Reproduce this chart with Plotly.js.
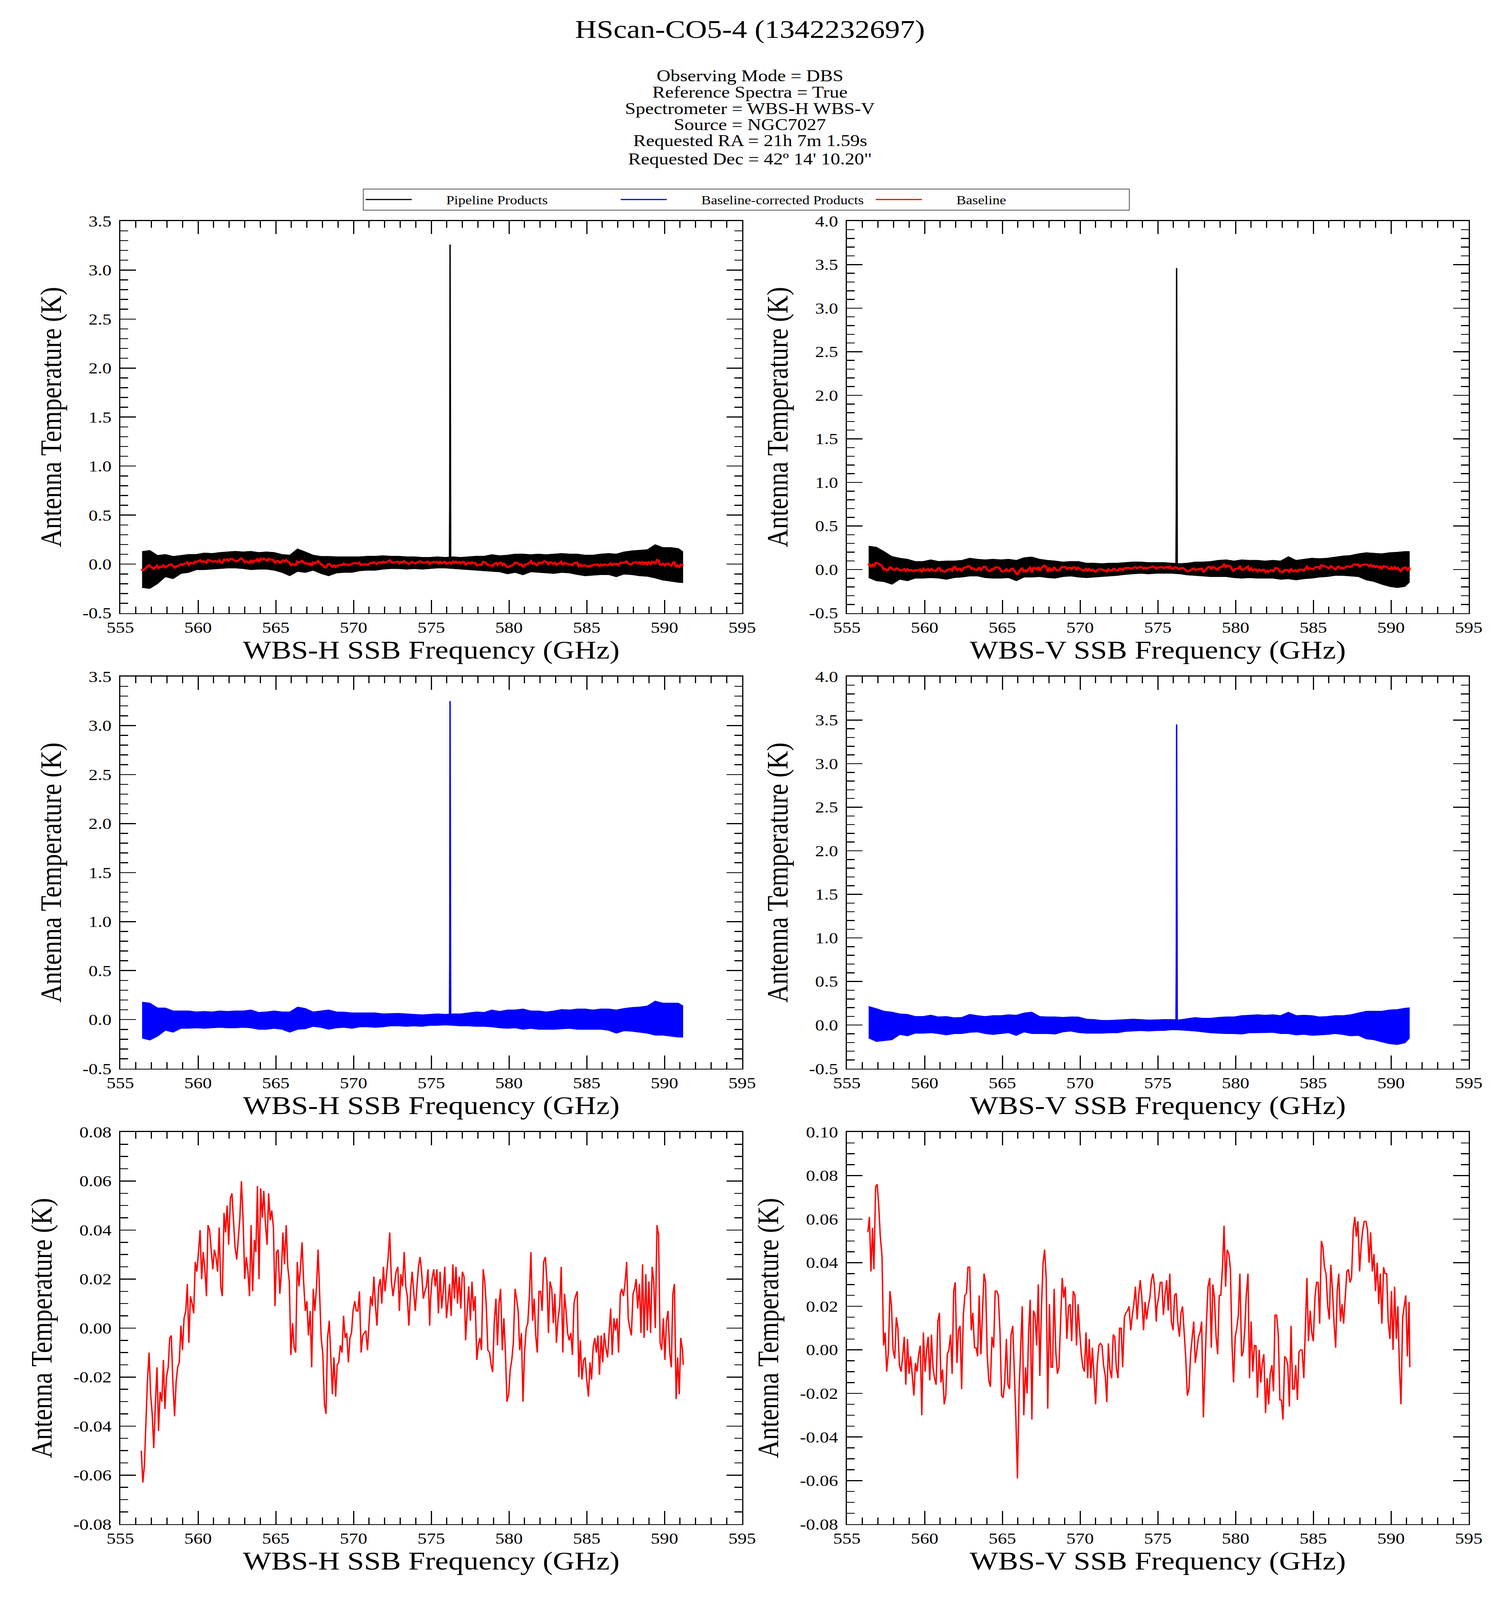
<!DOCTYPE html>
<html>
<head>
<meta charset="utf-8">
<script src="https://cdn.plot.ly/plotly-3.0.1.min.js"></script>
<style>
  html, body { margin: 0; padding: 0; background: #ffffff; overflow: hidden; }
  #wrap { width: 3840px; overflow: hidden; }
  #chart { width: 3840px; height: 4872px; }
</style>
</head>
<body>
<div id="wrap"><div id="chart"></div></div>
<script>
// ---------------- DATA ----------------
const freqGHz = [556.35, 556.45, 556.55, 556.65,
556.74, 556.85, 556.95, 557.05, 557.15, 557.26, 557.36, 557.46, 557.56, 557.67, 557.77, 557.87, 557.97, 558.08, 558.18, 558.28, 558.38, 558.49, 558.59, 558.69, 558.79, 558.90, 559.00, 559.10, 559.21, 559.31, 559.41, 559.51, 559.62, 559.72, 559.82, 559.92, 560.03, 560.13, 560.23, 560.33, 560.44, 560.54, 560.64,
560.74, 560.85, 560.95, 561.05, 561.15, 561.26, 561.36, 561.46, 561.56, 561.67, 561.77, 561.87, 561.97, 562.08, 562.18, 562.28, 562.38, 562.49, 562.59, 562.69, 562.79, 562.90, 563.00, 563.10, 563.21, 563.31, 563.41, 563.51, 563.62, 563.72, 563.82, 563.92, 564.03, 564.13, 564.23, 564.33, 564.44, 564.54, 564.64,
564.74, 564.85, 564.95, 565.05, 565.15, 565.26, 565.36, 565.46, 565.56, 565.67, 565.77, 565.87, 565.97, 566.08, 566.18, 566.28, 566.38, 566.49, 566.59, 566.69, 566.79, 566.90, 567.00, 567.10, 567.21, 567.31, 567.41, 567.51, 567.62, 567.72, 567.82, 567.92, 568.03, 568.13, 568.23, 568.33, 568.44, 568.54, 568.64,
568.74, 568.85, 568.95, 569.05, 569.15, 569.26, 569.36, 569.46, 569.56, 569.67, 569.77, 569.87, 569.97, 570.08, 570.18, 570.28, 570.38, 570.49, 570.59, 570.69, 570.79, 570.90, 571.00, 571.10, 571.21, 571.31, 571.41, 571.51, 571.62, 571.72, 571.82, 571.92, 572.03, 572.13, 572.23, 572.33, 572.44, 572.54, 572.64,
572.74, 572.85, 572.95, 573.05, 573.15, 573.26, 573.36, 573.46, 573.56, 573.67, 573.77, 573.87, 573.97, 574.08, 574.18, 574.28, 574.38, 574.49, 574.59, 574.69, 574.79, 574.90,
574.95, 575.05, 575.16, 575.26, 575.36, 575.46, 575.57, 575.67, 575.77, 575.87, 575.98, 576.08, 576.18, 576.28, 576.39, 576.49, 576.59, 576.69, 576.80, 576.90, 577.00, 577.11, 577.21, 577.31, 577.41, 577.52, 577.62, 577.72, 577.82, 577.93, 578.03, 578.13, 578.23, 578.34, 578.44, 578.54, 578.64, 578.75, 578.85,
578.95, 579.05, 579.16, 579.26, 579.36, 579.46, 579.57, 579.67, 579.77, 579.87, 579.98, 580.08, 580.18, 580.28, 580.39, 580.49, 580.59, 580.69, 580.80, 580.90, 581.00, 581.11, 581.21, 581.31, 581.41, 581.52, 581.62, 581.72, 581.82, 581.93, 582.03, 582.13, 582.23, 582.34, 582.44, 582.54, 582.64, 582.75, 582.85,
582.95, 583.05, 583.16, 583.26, 583.36, 583.46, 583.57, 583.67, 583.77, 583.87, 583.98, 584.08, 584.18, 584.28, 584.39, 584.49, 584.59, 584.69, 584.80, 584.90, 585.00, 585.11, 585.21, 585.31, 585.41, 585.52, 585.62, 585.72, 585.82, 585.93, 586.03, 586.13, 586.23, 586.34, 586.44, 586.54, 586.64, 586.75, 586.85,
586.95, 587.05, 587.16, 587.26, 587.36, 587.46, 587.57, 587.67, 587.77, 587.87, 587.98, 588.08, 588.18, 588.28, 588.39, 588.49, 588.59, 588.69, 588.80, 588.90, 589.00, 589.11, 589.21, 589.31, 589.41, 589.52, 589.62, 589.72, 589.82, 589.93, 590.03, 590.13, 590.23, 590.34, 590.44, 590.54, 590.64, 590.75, 590.85,
590.95, 591.05, 591.16, 591.21];

const baselineH = [-0.050, -0.063, -0.056, -0.037,
-0.022, -0.010, -0.027, -0.035, -0.049, -0.030, -0.016, -0.042, -0.026, -0.030, -0.013, -0.033, -0.020, -0.016, -0.004, -0.003, -0.022, -0.036, -0.022, -0.016, -0.014, 0.001, -0.009, 0.004, 0.007, 0.018, -0.006, 0.013, 0.010, 0.006, 0.027, 0.023, 0.031, 0.040, 0.020, 0.031, 0.024, 0.013, 0.042,
0.040, 0.031, 0.024, 0.032, 0.029, 0.023, 0.041, 0.017, 0.013, 0.047, 0.039, 0.050, 0.034, 0.053, 0.055, 0.044, 0.033, 0.028, 0.037, 0.045, 0.060, 0.044, 0.020, 0.029, 0.023, 0.013, 0.042, 0.015, 0.036, 0.031, 0.058, 0.020, 0.057, 0.045, 0.056, 0.043, 0.034, 0.055, 0.044,
0.048, 0.041, 0.009, 0.031, 0.032, 0.014, 0.023, 0.039, 0.026, 0.042, 0.025, 0.019, -0.011, 0.002, -0.008, -0.010, 0.027, 0.017, 0.025, 0.035, 0.019, 0.007, 0.011, -0.003, 0.007, -0.016, 0.016, 0.007, 0.017, 0.032, 0.014, -0.004, -0.011, -0.031, -0.035, -0.004, 0.003, -0.012, -0.027,
-0.012, -0.028, -0.015, -0.014, -0.007, -0.010, 0.005, -0.004, -0.002, -0.014, -0.004, -0.002, 0.007, 0.011, 0.007, 0.007, 0.015, -0.010, -0.003, -0.002, -0.001, -0.009, 0.002, 0.013, 0.009, 0.021, 0.009, 0.001, 0.017, 0.020, 0.010, 0.025, 0.015, 0.022, 0.029, 0.039, 0.019, 0.013, 0.018,
0.023, 0.025, 0.007, 0.022, 0.017, 0.031, 0.017, 0.013, 0.001, 0.015, 0.023, 0.015, 0.007, 0.017, 0.025, 0.029, 0.023, 0.012, 0.015, 0.017, 0.024, 0.001,
0.011, 0.020, 0.024, 0.017, 0.024, 0.006, 0.023, 0.008, 0.015, 0.025, 0.004, 0.011, 0.018, 0.005, 0.026, 0.012, 0.025, 0.010, 0.021, 0.008, 0.023, 0.021, -0.005, 0.007, 0.017, 0.003, 0.019, 0.007, 0.013, -0.013, -0.007, -0.004, -0.009, 0.024, 0.019, 0.009, -0.009, -0.010, -0.015,
-0.018, 0.002, 0.012, -0.007, 0.010, 0.016, -0.009, 0.004, -0.010, -0.030, -0.027, -0.017, -0.013, -0.006, 0.016, 0.012, 0.007, -0.009, -0.002, -0.030, -0.010, 0.000, 0.002, 0.013, 0.031, 0.003, 0.012, -0.003, -0.010, 0.015, 0.015, 0.007, 0.027, 0.029, 0.019, -0.002, 0.019, 0.016, 0.002,
0.014, -0.006, 0.004, 0.009, 0.025, -0.010, 0.014, 0.007, -0.002, -0.005, -0.002, -0.011, 0.010, 0.013, 0.015, -0.020, -0.005, -0.021, -0.013, -0.012, -0.021, -0.028, -0.014, -0.021, -0.008, -0.004, -0.010, -0.003, -0.019, -0.003, -0.014, -0.002, -0.008, -0.012, -0.002, 0.008, -0.011, 0.004, -0.001,
0.004, -0.010, 0.014, 0.016, 0.013, 0.018, 0.027, 0.004, 0.000, -0.003, 0.014, 0.016, 0.020, 0.008, 0.018, -0.002, 0.026, -0.004, 0.022, -0.001, 0.019, -0.002, 0.025, 0.019, 0.000, 0.042, 0.038, -0.006, -0.009, 0.004, -0.013, 0.003, 0.007, -0.010, -0.016, 0.014, 0.018, -0.029, -0.012,
-0.027, -0.004, -0.009, -0.015];

const baselineV = [0.054, 0.061, 0.036, 0.056,
0.037, 0.075, 0.076, 0.066, 0.052, 0.043, 0.002, 0.008, -0.010, -0.001, 0.027, 0.020, 0.000, -0.004, 0.015, 0.010, -0.007, -0.010, -0.003, 0.006, -0.016, 0.005, -0.011, -0.003, -0.012, -0.021, -0.006, -0.010, -0.002, 0.002, -0.030, 0.008, -0.010, 0.000, 0.006, -0.014, 0.007, -0.008, -0.013,
-0.016, 0.013, 0.017, -0.015, -0.009, -0.025, -0.021, -0.002, 0.000, 0.007, -0.011, 0.027, 0.031, -0.006, 0.009, 0.011, -0.018, 0.016, 0.025, 0.026, 0.038, 0.038, 0.009, 0.017, 0.001, 0.001, -0.003, 0.025, -0.002, 0.017, 0.035, 0.031, -0.003, -0.014, -0.017, 0.006, 0.001, 0.027, 0.027,
0.025, 0.008, -0.021, -0.022, -0.015, 0.005, -0.016, -0.018, 0.007, 0.011, -0.010, -0.031, -0.059, -0.018, 0.001, 0.020, -0.030, -0.008, -0.020, 0.008, 0.023, -0.032, 0.018, 0.016, 0.002, 0.030, -0.012, 0.018, 0.040, 0.046, 0.033, -0.027, 0.021, -0.008, -0.008, 0.028, -0.001, -0.011, -0.008,
0.013, 0.033, 0.024, 0.029, 0.005, 0.020, 0.021, 0.004, 0.027, 0.025, 0.002, 0.021, 0.009, -0.002, -0.008, -0.010, 0.008, -0.013, 0.005, -0.013, 0.001, -0.013, -0.025, -0.007, 0.002, 0.003, 0.002, -0.007, -0.012, -0.024, 0.003, -0.009, -0.013, 0.007, 0.006, -0.008, -0.013, 0.010, 0.010,
-0.008, 0.015, 0.017, 0.018, 0.020, 0.009, 0.016, 0.021, 0.029, 0.014, 0.025, 0.032, 0.024, 0.009, 0.022, 0.014, 0.020, 0.024, 0.032, 0.035, 0.029, 0.013,
0.020, 0.024, 0.031, 0.031, 0.016, 0.025, 0.032, 0.018, 0.035, 0.013, 0.009, 0.025, 0.026, 0.013, 0.006, 0.017, 0.020, 0.009, -0.004, -0.021, -0.018, -0.002, 0.005, 0.013, -0.006, 0.001, 0.006, 0.008, 0.013, -0.031, -0.008, 0.013, 0.029, 0.033, 0.001, 0.030, 0.024, 0.006, -0.002,
0.025, 0.025, 0.038, 0.057, 0.029, 0.046, 0.044, 0.037, 0.003, -0.015, 0.006, 0.010, 0.016, 0.035, -0.003, -0.001, 0.009, 0.025, 0.035, -0.013, 0.013, -0.010, 0.002, 0.002, -0.022, 0.000, -0.015, -0.006, -0.002, -0.029, -0.013, -0.025, -0.011, -0.007, -0.019, 0.016, 0.016, 0.007, -0.023,
-0.023, -0.032, -0.003, -0.004, -0.007, -0.026, 0.011, -0.018, -0.018, -0.007, -0.023, -0.001, 0.000, 0.000, -0.013, 0.008, 0.033, 0.004, 0.018, 0.008, 0.004, 0.024, 0.031, 0.031, 0.012, 0.050, 0.047, 0.038, 0.035, 0.020, 0.014, 0.039, 0.028, 0.012, 0.001, 0.027, 0.035, 0.013, 0.021,
0.012, 0.024, 0.036, 0.037, 0.031, 0.033, 0.055, 0.061, 0.052, 0.059, 0.036, 0.048, 0.055, 0.059, 0.059, 0.055, 0.040, 0.054, 0.036, 0.044, 0.027, 0.040, 0.021, 0.035, 0.012, 0.038, 0.035, 0.035, 0.013, 0.005, 0.027, 0.000, 0.029, 0.005, 0.020, -0.008, -0.025, 0.015, 0.020,
0.025, -0.003, 0.022, -0.008];

const bandFreqGHz = [556.4, 556.9, 557.4, 557.9, 558.4, 558.9, 559.4, 559.9, 560.4, 560.9, 561.4, 561.9, 562.4, 562.9, 563.4, 563.9, 564.4, 564.9, 565.4, 565.9, 566.4, 566.9, 567.4, 567.9, 568.4, 568.9, 569.4, 569.9, 570.4, 570.9, 571.4, 571.9, 572.4, 572.9, 573.4, 573.9, 574.4, 574.9, 575.4, 575.9, 576.4, 576.9, 577.4, 577.9, 578.4, 578.9, 579.4, 579.9, 580.4, 580.9, 581.4, 581.9, 582.4, 582.9, 583.4, 583.9, 584.4, 584.9, 585.4, 585.9, 586.4, 586.9, 587.4, 587.9, 588.4, 588.9, 589.4, 589.9, 590.4, 590.9, 591.2];

const pipelineHHi = [0.13, 0.14, 0.09, 0.10, 0.08, 0.09, 0.10, 0.10, 0.115, 0.11, 0.12, 0.126, 0.132, 0.126, 0.132, 0.12, 0.126, 0.12, 0.10, 0.093, 0.157, 0.126, 0.093, 0.08, 0.08, 0.076, 0.076, 0.076, 0.076, 0.082, 0.082, 0.087, 0.082, 0.082, 0.076, 0.076, 0.07, 0.07, 0.076, 0.07, 0.076, 0.07, 0.076, 0.082, 0.082, 0.098, 0.087, 0.093, 0.104, 0.104, 0.098, 0.104, 0.098, 0.104, 0.11, 0.104, 0.104, 0.093, 0.093, 0.104, 0.11, 0.104, 0.126, 0.137, 0.143, 0.149, 0.20, 0.17, 0.17, 0.16, 0.126];
const pipelineHLo = [-0.24, -0.25, -0.20, -0.13, -0.15, -0.097, -0.086, -0.058, -0.058, -0.053, -0.047, -0.041, -0.041, -0.047, -0.058, -0.053, -0.053, -0.064, -0.086, -0.12, -0.075, -0.086, -0.064, -0.097, -0.12, -0.092, -0.086, -0.086, -0.069, -0.064, -0.064, -0.053, -0.047, -0.047, -0.053, -0.047, -0.053, -0.047, -0.041, -0.041, -0.047, -0.053, -0.058, -0.064, -0.069, -0.075, -0.080, -0.10, -0.086, -0.11, -0.080, -0.086, -0.092, -0.097, -0.086, -0.092, -0.108, -0.12, -0.114, -0.108, -0.108, -0.13, -0.103, -0.108, -0.12, -0.125, -0.142, -0.164, -0.175, -0.187, -0.19];
const pipelineVHi = [0.27, 0.258, 0.208, 0.151, 0.132, 0.12, 0.094, 0.094, 0.113, 0.094, 0.10, 0.10, 0.107, 0.132, 0.12, 0.113, 0.12, 0.113, 0.12, 0.107, 0.138, 0.145, 0.12, 0.107, 0.10, 0.088, 0.094, 0.094, 0.075, 0.075, 0.069, 0.075, 0.075, 0.082, 0.088, 0.088, 0.082, 0.082, 0.082, 0.075, 0.069, 0.075, 0.088, 0.088, 0.094, 0.107, 0.113, 0.10, 0.113, 0.107, 0.107, 0.10, 0.107, 0.10, 0.15, 0.107, 0.12, 0.132, 0.126, 0.132, 0.145, 0.157, 0.164, 0.182, 0.195, 0.189, 0.182, 0.195, 0.20, 0.208, 0.208];
const pipelineVLo = [-0.094, -0.13, -0.14, -0.17, -0.113, -0.13, -0.10, -0.10, -0.094, -0.10, -0.113, -0.094, -0.088, -0.075, -0.075, -0.094, -0.10, -0.10, -0.094, -0.13, -0.088, -0.088, -0.082, -0.094, -0.10, -0.082, -0.075, -0.088, -0.094, -0.088, -0.082, -0.075, -0.069, -0.057, -0.05, -0.044, -0.05, -0.044, -0.044, -0.044, -0.05, -0.063, -0.069, -0.075, -0.082, -0.082, -0.082, -0.094, -0.10, -0.094, -0.10, -0.10, -0.10, -0.113, -0.107, -0.12, -0.107, -0.10, -0.088, -0.082, -0.069, -0.069, -0.075, -0.082, -0.12, -0.138, -0.17, -0.195, -0.208, -0.195, -0.145];
const correctedHHi = [0.18, 0.17, 0.12, 0.12, 0.09, 0.09, 0.09, 0.08, 0.085, 0.08, 0.09, 0.085, 0.09, 0.09, 0.10, 0.075, 0.08, 0.09, 0.08, 0.08, 0.13, 0.115, 0.08, 0.09, 0.10, 0.08, 0.078, 0.07, 0.07, 0.07, 0.07, 0.06, 0.062, 0.065, 0.06, 0.055, 0.05, 0.055, 0.06, 0.055, 0.06, 0.06, 0.07, 0.08, 0.075, 0.10, 0.085, 0.10, 0.10, 0.11, 0.09, 0.09, 0.08, 0.09, 0.105, 0.10, 0.11, 0.11, 0.10, 0.11, 0.11, 0.10, 0.115, 0.125, 0.13, 0.14, 0.19, 0.17, 0.17, 0.17, 0.14];
const correctedHLo = [-0.19, -0.21, -0.17, -0.11, -0.13, -0.09, -0.09, -0.085, -0.09, -0.085, -0.08, -0.085, -0.085, -0.08, -0.085, -0.10, -0.10, -0.09, -0.10, -0.13, -0.10, -0.095, -0.07, -0.08, -0.10, -0.085, -0.08, -0.09, -0.075, -0.075, -0.08, -0.075, -0.065, -0.065, -0.07, -0.065, -0.07, -0.06, -0.06, -0.055, -0.06, -0.065, -0.065, -0.07, -0.07, -0.075, -0.085, -0.09, -0.085, -0.10, -0.09, -0.10, -0.10, -0.10, -0.095, -0.09, -0.10, -0.10, -0.10, -0.10, -0.11, -0.14, -0.115, -0.12, -0.13, -0.14, -0.16, -0.16, -0.17, -0.18, -0.18];
const correctedVHi = [0.215, 0.19, 0.16, 0.15, 0.13, 0.125, 0.10, 0.10, 0.115, 0.095, 0.10, 0.085, 0.09, 0.125, 0.11, 0.10, 0.11, 0.11, 0.12, 0.115, 0.14, 0.15, 0.10, 0.095, 0.095, 0.09, 0.095, 0.094, 0.07, 0.065, 0.055, 0.055, 0.06, 0.065, 0.07, 0.065, 0.06, 0.062, 0.065, 0.065, 0.062, 0.075, 0.088, 0.08, 0.08, 0.09, 0.095, 0.095, 0.11, 0.115, 0.12, 0.115, 0.12, 0.11, 0.15, 0.11, 0.115, 0.11, 0.095, 0.10, 0.11, 0.11, 0.12, 0.14, 0.16, 0.16, 0.16, 0.175, 0.18, 0.195, 0.20];
const correctedVLo = [-0.15, -0.19, -0.18, -0.17, -0.11, -0.125, -0.095, -0.095, -0.09, -0.10, -0.115, -0.10, -0.10, -0.085, -0.08, -0.10, -0.11, -0.10, -0.09, -0.12, -0.08, -0.10, -0.10, -0.10, -0.105, -0.08, -0.07, -0.088, -0.095, -0.095, -0.095, -0.09, -0.09, -0.075, -0.07, -0.065, -0.07, -0.065, -0.064, -0.055, -0.058, -0.065, -0.07, -0.08, -0.09, -0.095, -0.10, -0.10, -0.105, -0.09, -0.09, -0.088, -0.085, -0.10, -0.10, -0.115, -0.107, -0.12, -0.115, -0.11, -0.10, -0.11, -0.125, -0.12, -0.16, -0.17, -0.195, -0.215, -0.225, -0.205, -0.15];

const lineFreqGHz = [576.14, 576.17, 576.19, 576.20, 576.21, 576.22, 576.23, 576.25, 576.28];
const linePipelineH  = [0.02, 0.04, 0.60, 2.90, 3.26, 2.40, 0.50, 0.06, 0.02];
const lineCorrectedH = [0.00, 0.03, 0.60, 2.90, 3.25, 2.40, 0.50, 0.05, 0.00];
const linePipelineV  = [0.03, 0.05, 0.70, 3.10, 3.46, 2.50, 0.50, 0.06, 0.03];
const lineCorrectedV = [0.00, 0.03, 0.70, 3.10, 3.45, 2.50, 0.50, 0.05, 0.00];

const xTickVals = [555, 560, 565, 570, 575, 580, 585, 590, 595];
const xTickLabels = ['555', '560', '565', '570', '575', '580', '585', '590', '595'];
const yTickValsH = [-0.5, 0.0, 0.5, 1.0, 1.5, 2.0, 2.5, 3.0, 3.5];
const yTickLabelsH = ['-0.5', '0.0', '0.5', '1.0', '1.5', '2.0', '2.5', '3.0', '3.5'];
const yTickValsV = [-0.5, 0.0, 0.5, 1.0, 1.5, 2.0, 2.5, 3.0, 3.5, 4.0];
const yTickLabelsV = ['-0.5', '0.0', '0.5', '1.0', '1.5', '2.0', '2.5', '3.0', '3.5', '4.0'];
const yTickValsBaseH = [-0.08, -0.06, -0.04, -0.02, 0.00, 0.02, 0.04, 0.06, 0.08];
const yTickLabelsBaseH = ['-0.08', '-0.06', '-0.04', '-0.02', '0.00', '0.02', '0.04', '0.06', '0.08'];
const yTickValsBaseV = [-0.08, -0.06, -0.04, -0.02, 0.00, 0.02, 0.04, 0.06, 0.08, 0.10];
const yTickLabelsBaseV = ['-0.08', '-0.06', '-0.04', '-0.02', '0.00', '0.02', '0.04', '0.06', '0.08', '0.10'];

const titleText = 'HScan-CO5-4 (1342232697)';
const infoLines = ['Observing Mode = DBS', 'Reference Spectra = True', 'Spectrometer = WBS-H WBS-V',
  'Source = NGC7027', 'Requested RA = 21h 7m 1.59s', 'Requested Dec = 42º 14\' 10.20"'];
const seriesNames = ['Pipeline Products', 'Baseline-corrected Products', 'Baseline'];

// ---------------- STYLE / LAYOUT ----------------
const W = 3840, H = 4872;
const SERIF = 'Liberation Serif, Times New Roman, serif';
const BLACK = '#000000', BLUE = '#0000ff', RED = '#ff0000';
const GAP = '\u2003\u2003\u00a0';

const colX = [[308 / W, 1900 / W], [2168 / W, 3760 / W]];
const rowTop = [673, 2060, 3447];
const rowH = 1194;
function rowDomain(r) { return [1 - (rowTop[r] + rowH) / H, 1 - rowTop[r] / H]; }

function xAxisDef(col, anchor, title) {
  return {
    domain: colX[col], anchor: anchor, range: [555, 595],
    tickmode: 'array', tickvals: xTickVals, ticktext: xTickLabels,
    ticks: 'inside', ticklen: 40, tickwidth: 3, tickcolor: BLACK,
    minor: { tickmode: 'linear', tick0: 555, dtick: 1, ticks: 'inside', ticklen: 20, tickwidth: 3, tickcolor: BLACK },
    showline: true, linewidth: 3, linecolor: BLACK, mirror: 'allticks',
    showgrid: false, zeroline: false,
    tickfont: { family: SERIF, size: 47, color: BLACK },
    title: { text: title, font: { family: SERIF, size: 77, color: BLACK }, standoff: 8 }
  };
}
function yAxisDef(row, anchor, range, vals, labels, minorStep) {
  return {
    domain: rowDomain(row), anchor: anchor, range: range,
    tickmode: 'array', tickvals: vals, ticktext: labels,
    ticks: 'inside', ticklen: 40, tickwidth: 3, tickcolor: BLACK, ticklabelstandoff: 10,
    minor: { tickmode: 'linear', tick0: range[0], dtick: minorStep, ticks: 'inside', ticklen: 20, tickwidth: 3, tickcolor: BLACK },
    showline: true, linewidth: 3, linecolor: BLACK, mirror: 'allticks',
    showgrid: false, zeroline: false,
    tickfont: { family: SERIF, size: 47, color: BLACK },
    title: { text: 'Antenna Temperature (K)', font: { family: SERIF, size: 77, color: BLACK }, standoff: 30 }
  };
}

const traces = [];
function band(xa, ya, lo, hi, color) {
  traces.push({ x: bandFreqGHz, y: lo, xaxis: xa, yaxis: ya, mode: 'lines', type: 'scatter',
    line: { color: color, width: 1.5 }, showlegend: false, hoverinfo: 'skip' });
  traces.push({ x: bandFreqGHz, y: hi, xaxis: xa, yaxis: ya, mode: 'lines', type: 'scatter',
    fill: 'tonexty', fillcolor: color, line: { color: color, width: 1.5 }, showlegend: false, hoverinfo: 'skip' });
}
function lineTrace(xa, ya, y, color, name, show, rank) {
  traces.push({ x: lineFreqGHz, y: y, xaxis: xa, yaxis: ya, mode: 'lines', type: 'scatter',
    line: { color: color, width: 3.5 }, name: GAP + name, showlegend: show, legendrank: rank });
}
function baseTrace(xa, ya, y, width, show) {
  traces.push({ x: freqGHz, y: y, xaxis: xa, yaxis: ya, mode: 'lines', type: 'scatter',
    line: { color: RED, width: width }, name: GAP + seriesNames[2], showlegend: show, legendrank: 3 });
}

band('x', 'y', pipelineHLo, pipelineHHi, BLACK);
lineTrace('x', 'y', linePipelineH, BLACK, seriesNames[0], true, 1);
baseTrace('x', 'y', baselineH, 6, false);
band('x2', 'y2', pipelineVLo, pipelineVHi, BLACK);
lineTrace('x2', 'y2', linePipelineV, BLACK, seriesNames[0], false, 1);
baseTrace('x2', 'y2', baselineV, 6, false);
band('x3', 'y3', correctedHLo, correctedHHi, BLUE);
lineTrace('x3', 'y3', lineCorrectedH, BLUE, seriesNames[1], true, 2);
band('x4', 'y4', correctedVLo, correctedVHi, BLUE);
lineTrace('x4', 'y4', lineCorrectedV, BLUE, seriesNames[1], false, 2);
baseTrace('x5', 'y5', baselineH, 3.5, true);
baseTrace('x6', 'y6', baselineV, 3.5, false);

const annotations = infoLines.map((t, i) => ({
  text: t, xref: 'paper', yref: 'paper', x: 0.5, xanchor: 'center',
  y: 1 - [231, 280, 330, 379, 429, 485][i] / H, yanchor: 'middle',
  showarrow: false, font: { family: SERIF, size: 49, color: BLACK }
}));

const layout = {
  width: W, height: H, margin: { l: 0, r: 0, t: 0, b: 0 },
  paper_bgcolor: '#ffffff', plot_bgcolor: '#ffffff',
  font: { family: SERIF, color: BLACK },
  title: { text: titleText, x: 0.5, xanchor: 'center', y: 1 - 88 / H, yanchor: 'middle',
    font: { family: SERIF, size: 77, color: BLACK } },
  showlegend: true,
  legend: { orientation: 'h', x: 929 / W, xanchor: 'left', y: 1 - 575 / H, yanchor: 'top',
    bordercolor: '#555555', borderwidth: 2, bgcolor: '#ffffff',
    font: { family: SERIF, size: 37, color: BLACK }, itemwidth: 118, entrywidth: 520, traceorder: 'normal' },
  annotations: annotations,
  xaxis: xAxisDef(0, 'y', 'WBS-H SSB Frequency (GHz)'),
  yaxis: yAxisDef(0, 'x', [-0.5, 3.5], yTickValsH, yTickLabelsH, 0.1),
  xaxis2: xAxisDef(1, 'y2', 'WBS-V SSB Frequency (GHz)'),
  yaxis2: yAxisDef(0, 'x2', [-0.5, 4.0], yTickValsV, yTickLabelsV, 0.1),
  xaxis3: xAxisDef(0, 'y3', 'WBS-H SSB Frequency (GHz)'),
  yaxis3: yAxisDef(1, 'x3', [-0.5, 3.5], yTickValsH, yTickLabelsH, 0.1),
  xaxis4: xAxisDef(1, 'y4', 'WBS-V SSB Frequency (GHz)'),
  yaxis4: yAxisDef(1, 'x4', [-0.5, 4.0], yTickValsV, yTickLabelsV, 0.1),
  xaxis5: xAxisDef(0, 'y5', 'WBS-H SSB Frequency (GHz)'),
  yaxis5: yAxisDef(2, 'x5', [-0.08, 0.08], yTickValsBaseH, yTickLabelsBaseH, 0.005),
  xaxis6: xAxisDef(1, 'y6', 'WBS-V SSB Frequency (GHz)'),
  yaxis6: yAxisDef(2, 'x6', [-0.08, 0.10], yTickValsBaseV, yTickLabelsBaseV, 0.005)
};

Plotly.newPlot('chart', traces, layout, { staticPlot: true, displayModeBar: false }).then(function () {
  // The browser viewport may be shorter than the requested 3840x4872 page;
  // fit the finished drawing into it so nothing is cut off.
  const vw = window.innerWidth || W, vh = window.innerHeight || H;
  const sx = Math.min(1, vw / W), sy = Math.min(1, vh / H);
  if (sx < 1 || sy < 1) {
    const c = document.getElementById('chart');
    c.style.transformOrigin = '0 0';
    c.style.transform = 'scale(' + sx + ',' + sy + ')';
    document.getElementById('wrap').style.height = vh + 'px';
  }
});
</script>
</body>
</html>
